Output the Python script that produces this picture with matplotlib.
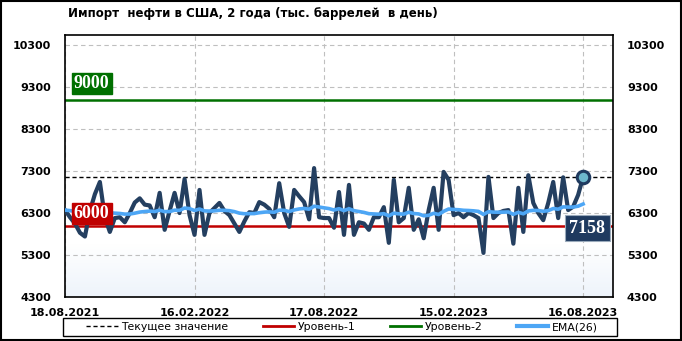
import matplotlib
matplotlib.use('Agg')
import matplotlib.pyplot as plt
import matplotlib.dates as mdates
import matplotlib.transforms as mtransforms
from matplotlib.colors import LinearSegmentedColormap
from matplotlib.lines import Line2D
from matplotlib.patches import Rectangle
import numpy as np
import pandas as pd

# ---------------- data ----------------
start_date = '2021-08-18'
imports = [6370, 6200, 6050, 5830, 5740, 6350, 6750, 7040, 6200, 5850,
           6180, 6200, 6080, 6300, 6550, 6650, 6500, 6480, 6200, 6780,
           5900, 6350, 6780, 6300, 7110, 6250, 5780, 6850, 5780, 6300,
           6420, 6540, 6350, 6250, 6050, 5850, 6100, 6320, 6300, 6560,
           6500, 6400, 6200, 7010, 6300, 5970, 6850, 6700, 6560, 6150,
           7370, 6200, 6180, 6180, 5950, 6800, 5780, 6970, 5780, 6080,
           6050, 5900, 6200, 6200, 6440, 5590, 7090, 6080, 6180, 6900,
           5900, 6150, 5700, 6370, 6900, 5900, 7280, 7090, 6250, 6300,
           6200, 6300, 6250, 6180, 5350, 7160, 6180, 6300, 6350, 6370,
           5570, 6900, 5850, 7200, 6540, 6300, 6130, 6540, 7040, 6180,
           7150, 6370, 6450, 6730, 7158]
level1 = 6000
level2 = 9000
ema_span = 26
y_ticks = [4300, 5300, 6300, 7300, 8300, 9300, 10300]
x_tick_dates = ['2021-08-18', '2022-02-16', '2022-08-17', '2023-02-15', '2023-08-16']
title = 'Импорт  нефти в США, 2 года (тыс. баррелей  в день)'
legend_labels = ['Текущее значение', 'Уровень-1', 'Уровень-2', 'EMA(26)']

dates = pd.date_range(start_date, periods=len(imports), freq='7D')
series = pd.Series(imports, index=dates)
ema = series.ewm(span=ema_span, adjust=False).mean()
current = imports[-1]

# ---------------- style ----------------
navy = '#243F60'
red = '#C00000'
green = '#007000'
blue = '#4DA6F5'
plt.rcParams['font.family'] = ['DejaVu Sans']

fig = plt.figure(figsize=(6.82, 3.41), dpi=100)
fig.patch.set_facecolor('white')
ax = fig.add_axes([65 / 682, 1 - 297 / 341, 548 / 682, 262 / 341])

# subtle background gradient at the bottom of the plot area
t = np.linspace(0, 1, 200).reshape(-1, 1)
grad = np.clip((t - 0.80) / 0.20, 0, 1)
cmap = LinearSegmentedColormap.from_list('g', ['#FFFFFF', '#EEF4FB'])
ax.imshow(grad, cmap=cmap, extent=[0, 1, 0, 1], transform=ax.transAxes,
          aspect='auto', zorder=0, interpolation='bilinear')

x0 = pd.Timestamp(start_date)
x1 = x0 + pd.Timedelta(weeks=110)
ax.set_xlim(x0, x1)
ax.set_ylim(4300, 10540)

ax.set_yticks(y_ticks)
ax.set_yticklabels([str(v) for v in y_ticks])
ax.set_xticks(pd.to_datetime(x_tick_dates))
ax.xaxis.set_major_formatter(mdates.DateFormatter('%d.%m.%Y'))
ax.tick_params(axis='both', length=0, labelsize=8, pad=8)
ax.tick_params(axis='y', right=True, labelright=True, pad=10)
for lab in ax.get_xticklabels() + ax.get_yticklabels():
    lab.set_fontweight('bold')
ax.grid(True, color='#BFBFBF', linestyle=(0, (4, 3)), linewidth=0.8, zorder=1)
for sp in ax.spines.values():
    sp.set_color('black')
    sp.set_linewidth(1.2)

# lines
ax.axhline(level2, color=green, lw=1.8, zorder=2)
ax.axhline(level1, color=red, lw=1.8, zorder=2)
ax.axhline(current, color='black', lw=1.0, linestyle=(0, (3, 2)), zorder=2)
ax.plot(dates, series.values, color=navy, lw=3.0, zorder=3,
        solid_joinstyle='round')
ax.plot(dates, ema.values, color=blue, lw=2.6, zorder=4)
ax.plot(dates[-1], current, 'o', ms=9, mfc='#6DB8CC', mec='#1F3A5F', mew=2.2, zorder=5)

tr = mtransforms.blended_transform_factory(ax.transAxes, ax.transData)
ax.text(0.016, level2 + 190, str(level2), transform=tr, ha='left', va='bottom',
        color='white', fontsize=13, fontweight='bold', family='Liberation Serif',
        bbox=dict(boxstyle='square,pad=0.12', fc=green, ec=green), zorder=6)
ax.text(0.016, level1 + 90, str(level1), transform=tr, ha='left', va='bottom',
        color='white', fontsize=13, fontweight='bold', family='Liberation Serif',
        bbox=dict(boxstyle='square,pad=0.12', fc=red, ec=red), zorder=6)
ax.text(0.986, 5943, str(current), transform=tr, ha='right', va='center',
        color='white', fontsize=13, fontweight='bold', family='Liberation Serif',
        bbox=dict(boxstyle='square,pad=0.25', fc='#1F3A5F', ec='#9AAABB', lw=0.8), zorder=6)

# title
fig.text(68 / 682, 1 - 14 / 341, title, ha='left', va='center',
         fontsize=8.5, fontweight='bold')

# legend (frame drawn separately to span the plot width)
handles = [Line2D([], [], color='black', lw=1.0, linestyle=(0, (3, 2))),
           Line2D([], [], color=red, lw=2.0),
           Line2D([], [], color=green, lw=2.0),
           Line2D([], [], color=blue, lw=3.0)]
fig.legend(handles, legend_labels, loc='center', ncol=4,
           bbox_to_anchor=(342 / 682, 1 - 327 / 341),
           frameon=False, fontsize=7.8,
           handlelength=2.9, handletextpad=0.3, borderpad=0.2,
           columnspacing=3.2)
fig.patches.append(Rectangle((63 / 682, 1 - 336 / 341), 554 / 682, 18 / 341,
                             transform=fig.transFigure, fill=False,
                             edgecolor='black', lw=1.0))

# outer border
fig.patches.append(Rectangle((0.002, 0.003), 0.996, 0.994, transform=fig.transFigure,
                             fill=False, edgecolor='black', lw=1.5))

fig.savefig('out.png', dpi=100)
